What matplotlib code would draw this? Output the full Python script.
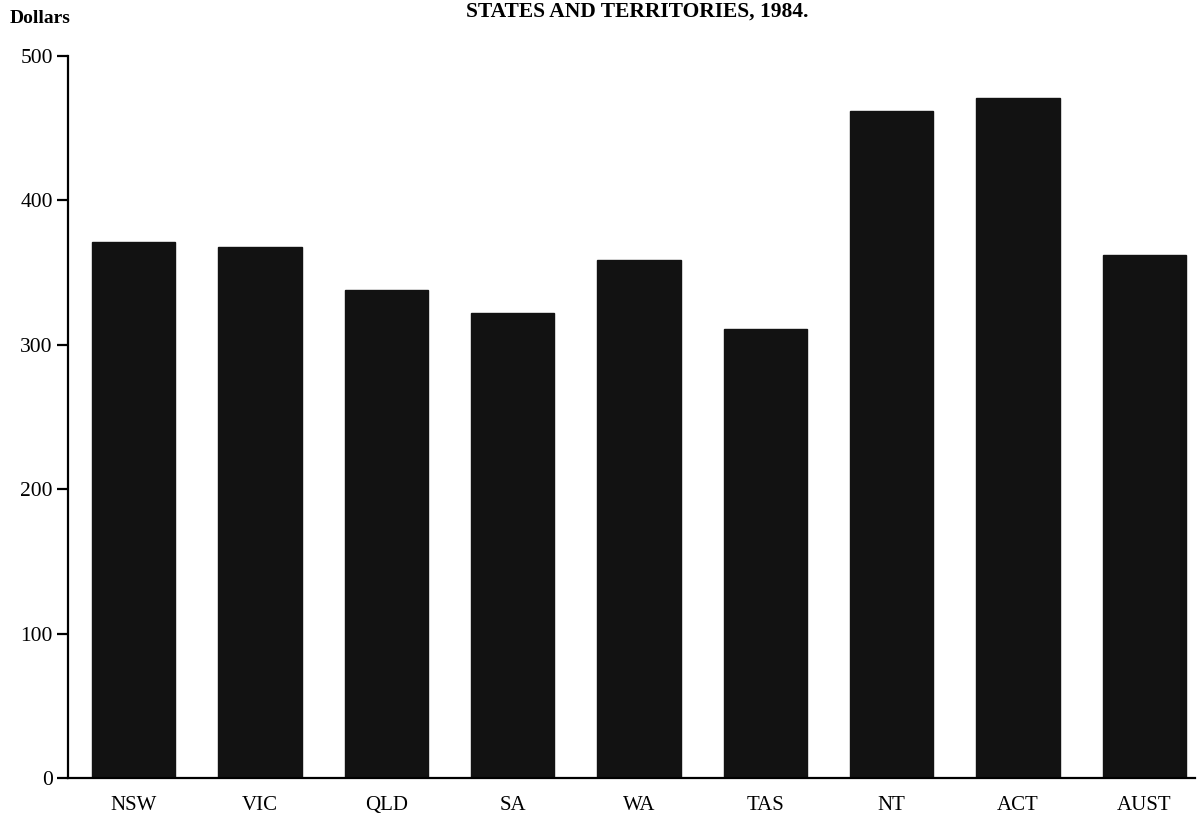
import numpy as np
import matplotlib
matplotlib.use("Agg")
import matplotlib.pyplot as plt

# Data
states = ["NSW", "VIC", "QLD", "SA", "WA", "TAS", "NT", "ACT", "AUST"]
dollars = [371, 368, 338, 322, 359, 311, 462, 471, 362]
yticks = [0, 100, 200, 300, 400, 500]

plt.rcParams['font.family'] = ['Liberation Serif', 'DejaVu Serif']

fig = plt.figure(figsize=(12.01, 8.19), dpi=100)
ax = fig.add_axes([0.0566, 0.05, 0.9384, 0.8816])

x = np.arange(len(states))
ax.bar(x, dollars, width=0.66, color='#121212', edgecolor='#121212', zorder=2)

ax.set_xlim(-0.52, 8.4)
ax.set_ylim(0, 500)
ax.set_yticks(yticks)
ax.set_xticks(x)
ax.set_xticklabels(states)

ax.spines['top'].set_visible(False)
ax.spines['right'].set_visible(False)
ax.spines['left'].set_linewidth(1.6)
ax.spines['bottom'].set_linewidth(1.6)

ax.tick_params(axis='y', direction='out', length=8, width=1.6, pad=3, labelsize=15.5)
ax.tick_params(axis='x', length=0, pad=13, labelsize=15)

fig.text(0.0083, 0.978, "Dollars", fontsize=14, fontweight='bold', va='center', ha='left')
fig.text(0.531, 0.986, "STATES AND TERRITORIES, 1984.", fontsize=15.5, fontweight='bold',
         va='center', ha='center')

fig.savefig("out.png", dpi=100)
